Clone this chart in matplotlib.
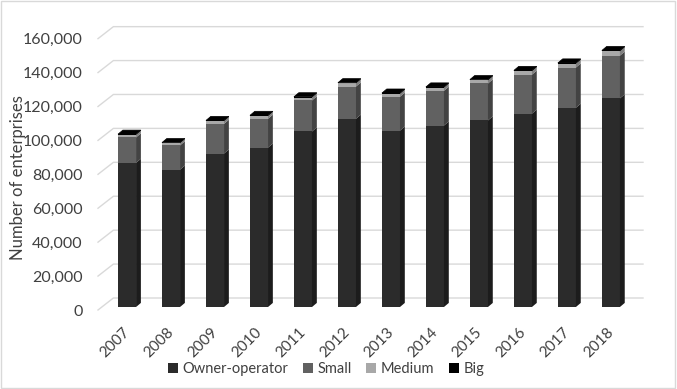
import matplotlib
matplotlib.use('Agg')
import matplotlib.pyplot as plt
import matplotlib.transforms as mtransforms
from matplotlib.patches import Polygon, Patch
import numpy as np

plt.rcParams['font.family'] = ['Lato', 'DejaVu Sans']

years = ['2007', '2008', '2009', '2010', '2011', '2012',
         '2013', '2014', '2015', '2016', '2017', '2018']
owner = [85000, 81000, 90500, 94000, 103500, 111000,
         104000, 107000, 110000, 114000, 117500, 123000]
small = [15000, 14300, 17500, 17000, 18300, 19000,
         20000, 20500, 21800, 23000, 23700, 25200]
medium = [1500, 1300, 1600, 1600, 1700, 1800,
          1700, 1800, 1800, 2000, 2200, 2500]
big = [400, 350, 400, 400, 450, 450, 450, 450, 500, 500, 500, 550]
series_names = ['Owner-operator', 'Small', 'Medium', 'Big']
yticks = [0, 20000, 40000, 60000, 80000, 100000, 120000, 140000, 160000]

front_cols = ['#2b2b2b', '#616161', '#a8a8a8', '#000000']
side_cols = ['#1c1c1c', '#434343', '#808080', '#000000']
text_col = '#404040'
grid_col = '#d9d9d9'

# fake 3d geometry (data units)
bar_w = 0.41
side_dx, side_dy = 0.11, 2400      # depth of each column
bar_y0 = 1770                      # column base sits a bit behind the front plane
wall_dx, wall_dy = 0.35, 7080      # back wall offset from the label plane
x_left, x_right = -0.66, 11.73

fig = plt.figure(figsize=(6.77, 3.89), dpi=100)
ax = fig.add_axes([98 / 677, (389 - 310) / 389, (643 - 98) / 677, 290 / 389])
ax.set_xlim(x_left, x_right)
ax.set_ylim(0, 171000)
for s in ax.spines.values():
    s.set_visible(False)

# back wall gridlines with the slanted lead-in
for v in yticks:
    ax.plot([x_left, x_left + wall_dx, x_right], [v, v + wall_dy, v + wall_dy],
            color=grid_col, lw=1, zorder=0, clip_on=False)

x = np.arange(len(years))
stack = [owner, small, medium, big]
bottom = np.full(len(years), float(bar_y0))
for k, vals in enumerate(stack):
    vals = np.array(vals, dtype=float)
    ax.bar(x, vals, width=bar_w, bottom=bottom, color=front_cols[k],
           linewidth=0, zorder=2)
    for i in range(len(years)):
        xr = x[i] + bar_w / 2
        b, t = bottom[i], bottom[i] + vals[i]
        ax.add_patch(Polygon([(xr, b), (xr + side_dx, b + side_dy),
                              (xr + side_dx, t + side_dy), (xr, t)],
                             closed=True, facecolor=side_cols[k], lw=0, zorder=2))
    bottom = bottom + vals

# top faces
for i in range(len(years)):
    xl, xr, t = x[i] - bar_w / 2, x[i] + bar_w / 2, bottom[i]
    ax.add_patch(Polygon([(xl, t), (xl + side_dx, t + side_dy),
                          (xr + side_dx, t + side_dy), (xr, t)],
                         closed=True, facecolor='#000000', edgecolor='#000000',
                         lw=0.5, zorder=3))

ax.set_yticks(yticks)
ax.set_yticklabels(['{:,}'.format(v) for v in yticks], fontsize=11.5, color=text_col)
ax.tick_params(axis='y', length=0, pad=11)
ax.set_xticks(x)
ax.set_xticklabels(years, rotation=45, ha='right', rotation_mode='anchor',
                   fontsize=11, color=text_col)
ax.tick_params(axis='x', length=0, pad=11)
off = mtransforms.ScaledTranslation(-4 / 100, 0, fig.dpi_scale_trans)
for lab in ax.get_xticklabels():
    lab.set_transform(lab.get_transform() + off)

fig.text(18 / 677, 1 - 178 / 389, 'Number of enterprises', rotation=90,
         ha='center', va='center', fontsize=12, color=text_col)

handles = [Patch(facecolor=c, edgecolor='none') for c in front_cols]
fig.legend(handles, series_names, loc='center', ncol=4, frameon=False,
           bbox_to_anchor=(326 / 677, 1 - 369 / 389), fontsize=10.5,
           handlelength=0.7, handleheight=0.7, handletextpad=0.3,
           columnspacing=1.0, labelcolor=text_col)

fig.add_artist(plt.Rectangle((0.002, 0.003), 0.995, 0.994, transform=fig.transFigure,
                             fill=False, edgecolor='#d9d9d9', lw=1))

fig.savefig('out.png', dpi=100)
